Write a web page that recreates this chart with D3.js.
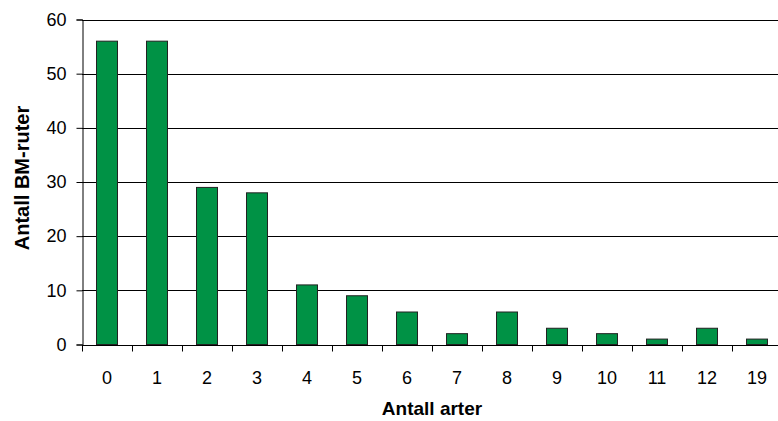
<!DOCTYPE html>
<html>
<head>
<meta charset="utf-8">
<script src="https://cdn.jsdelivr.net/npm/d3@7"></script>
<style>
  html, body { margin: 0; padding: 0; background: #fff; }
  svg { display: block; }
  text { font-family: "Liberation Sans", Arial, sans-serif; fill: #000; }
</style>
</head>
<body>
<svg id="chart" width="778" height="421"></svg>
<script>
// Number of species per grid square (Antall arter) and count of squares
const categories = ["0", "1", "2", "3", "4", "5", "6", "7", "8", "9", "10", "11", "12", "19"];
const counts = [56, 56, 29, 28, 11, 9, 6, 2, 6, 3, 2, 1, 3, 1];
const yTicks = [0, 10, 20, 30, 40, 50, 60];

const svg = d3.select("#chart");
const plot = { left: 82, right: 782, top: 19.5, bottom: 344.5 };

const x = d3.scaleBand()
  .domain(categories)
  .range([plot.left, plot.right])
  .paddingInner(0.58)
  .paddingOuter(0.29);

const y = d3.scaleLinear().domain([0, 60]).range([plot.bottom, plot.top]);

// horizontal gridlines
svg.append("g")
  .selectAll("line")
  .data(yTicks.filter(d => d > 0))
  .join("line")
  .attr("x1", plot.left).attr("x2", plot.right)
  .attr("y1", d => Math.round(y(d)) + 0.5).attr("y2", d => Math.round(y(d)) + 0.5)
  .attr("stroke", "#000").attr("stroke-width", 1);

// bars
svg.append("g")
  .selectAll("rect")
  .data(counts)
  .join("rect")
  .attr("x", (d, i) => x(categories[i]))
  .attr("width", x.bandwidth())
  .attr("y", d => y(d))
  .attr("height", d => y(0) - y(d))
  .attr("fill", "#009245")
  .attr("stroke", "#222")
  .attr("stroke-width", 1);

// y axis
const yAxis = svg.append("g")
  .attr("transform", `translate(${plot.left + 0.5},0)`)
  .call(d3.axisLeft(y).tickValues(yTicks).tickSize(6).tickPadding(10).tickFormat(d3.format("d")));
yAxis.select(".domain").attr("stroke", "#000");
yAxis.selectAll(".tick line").attr("stroke", "#000");
yAxis.selectAll("text").style("font-size", "18px").attr("font-family", null);

// x axis: ticks sit on category boundaries, labels centred in each band
const xAxisG = svg.append("g").attr("transform", `translate(0,${Math.round(plot.bottom) + 0.5})`);
xAxisG.append("line")
  .attr("x1", plot.left).attr("x2", plot.right)
  .attr("stroke", "#000");
const step = x.step();
const boundaries = d3.range(categories.length + 1).map(i => plot.left + i * step);
xAxisG.selectAll("line.tk")
  .data(boundaries)
  .join("line")
  .attr("class", "tk")
  .attr("x1", d => Math.round(d) + 0.5).attr("x2", d => Math.round(d) + 0.5)
  .attr("y1", 0).attr("y2", 6)
  .attr("stroke", "#000");
xAxisG.selectAll("text")
  .data(categories)
  .join("text")
  .attr("x", d => x(d) + x.bandwidth() / 2)
  .attr("y", 38)
  .attr("text-anchor", "middle")
  .style("font-size", "18px")
  .text(d => d);

// axis titles
svg.append("text")
  .attr("x", 432).attr("y", 415)
  .attr("text-anchor", "middle")
  .style("font-size", "19px").style("font-weight", "bold")
  .text("Antall arter");

svg.append("text")
  .attr("transform", "translate(28.5,178) rotate(-90)")
  .attr("text-anchor", "middle")
  .style("font-size", "20px").style("font-weight", "bold")
  .text("Antall BM-ruter");
</script>
</body>
</html>
